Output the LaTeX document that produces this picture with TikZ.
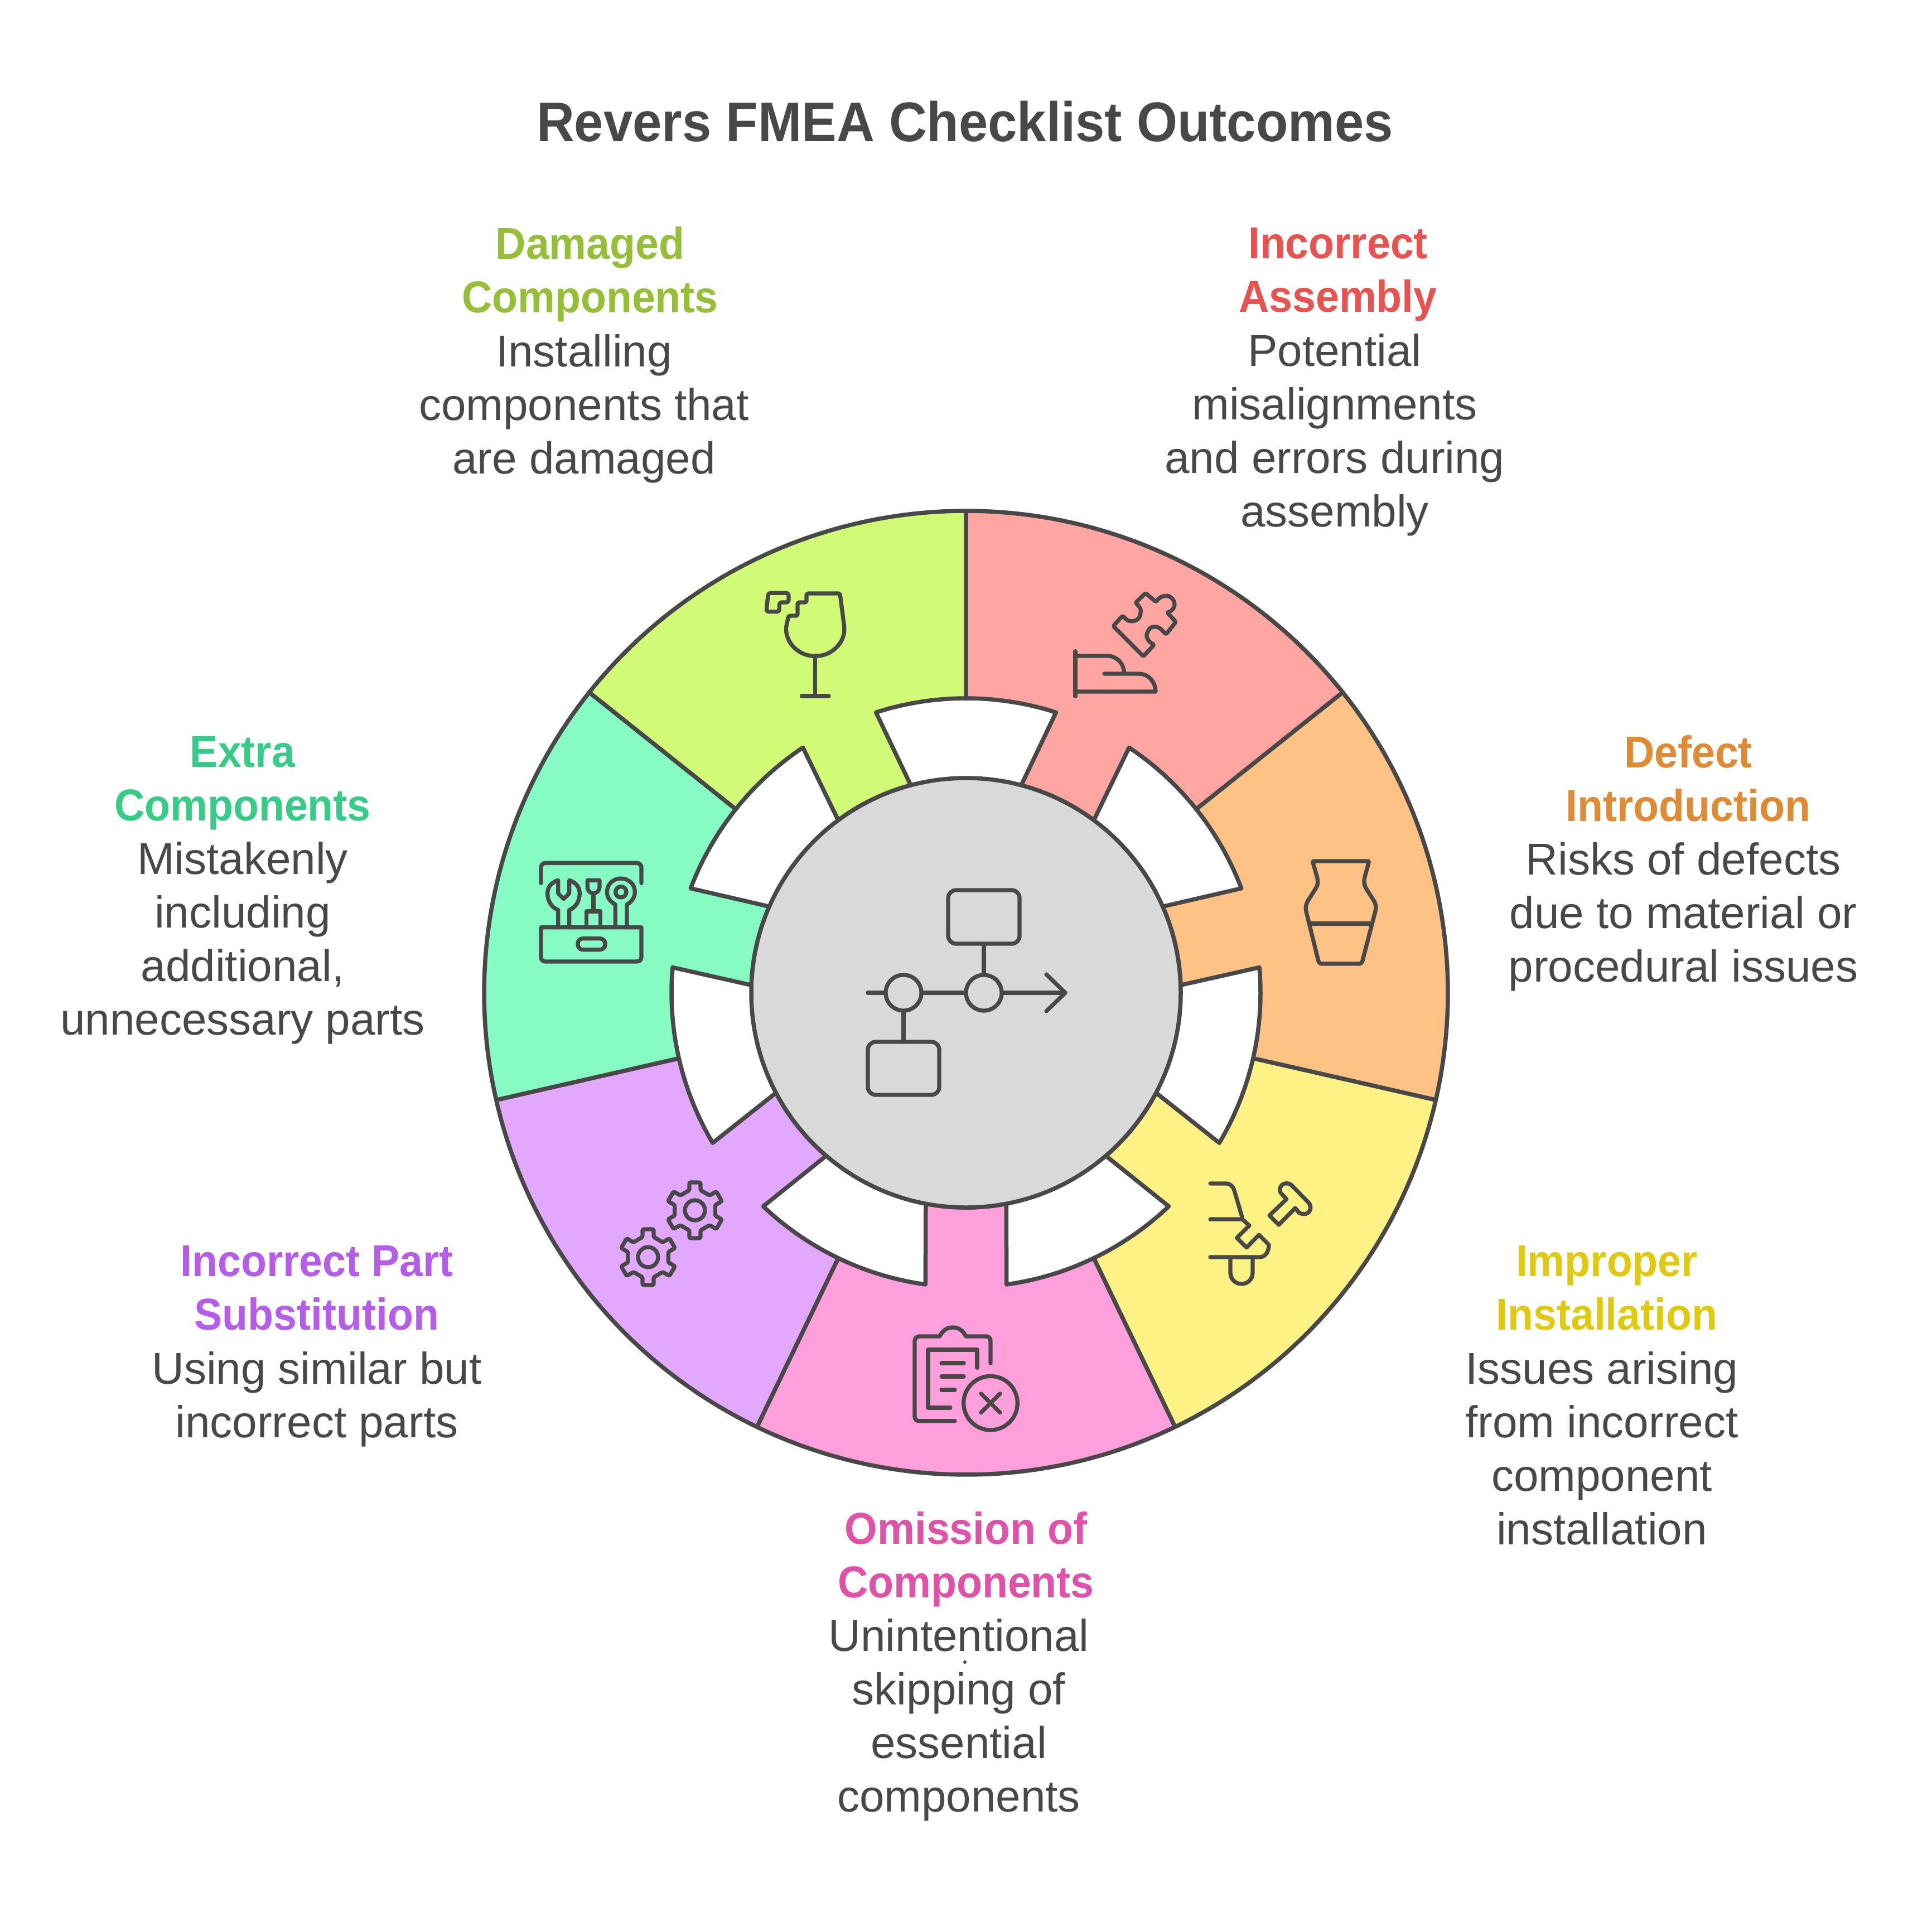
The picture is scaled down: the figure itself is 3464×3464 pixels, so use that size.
\documentclass[tikz,border=0pt]{standalone}
\usepackage{fontspec}
\setmainfont[BoldFeatures={FakeStretch=0.94}]{Liberation Sans}
\definecolor{ink}{HTML}{484848}
\definecolor{segA}{HTML}{FFA6A2}
\definecolor{segB}{HTML}{FFC285}
\definecolor{segC}{HTML}{FFF285}
\definecolor{segD}{HTML}{FFA0DC}
\definecolor{segE}{HTML}{E2A8FD}
\definecolor{segF}{HTML}{86FCC4}
\definecolor{segG}{HTML}{D1FB76}
\definecolor{hubgrey}{HTML}{D9D9D9}
\definecolor{txtA}{HTML}{E8524F}
\definecolor{txtB}{HTML}{E08B34}
\definecolor{txtC}{HTML}{E0C90F}
\definecolor{txtD}{HTML}{E052A8}
\definecolor{txtE}{HTML}{B65CEB}
\definecolor{txtF}{HTML}{36CB87}
\definecolor{txtG}{HTML}{95BF36}
\tikzset{
  titletext/.style={inner sep=0pt,text=ink,align=center,font=\fontsize{100}{116}\selectfont\bfseries},
  headtext/.style={inner sep=0pt,align=center,yshift=-13pt,font=\fontsize{80}{96}\selectfont\bfseries,execute at begin node=\strut,execute at end node=\strut},
  bodytext/.style={inner sep=0pt,text=ink,align=center,yshift=-13pt,font=\fontsize{80}{96}\selectfont,execute at begin node=\strut,execute at end node=\strut},
  segment/.style={draw=ink,line width=7.5pt,line join=round},
  icon/.style={draw=ink,line width=7.3pt,line cap=round,line join=round},
  iconframe/.style={x=0.33333pt,y=-0.33333pt}
}
% one ring segment from divider angle #1 to divider angle #2 (clockwise), fill #3
\newcommand{\fmeaseg}[3]{%
  \path[segment,fill=#3]
    (#1:864pt) arc[start angle=#1,end angle=#2,radius=864pt]
    -- (#2:528pt)
    arc[start angle=#2,end angle=#2+17.8,radius=528pt]
    -- (#2+14.9:385pt)
    arc[start angle=#2+14.9,end angle=#1-14.9,radius=385pt]
    -- (#1-17.8:528pt)
    arc[start angle=#1-17.8,end angle=#1,radius=528pt]
    -- cycle;}
\newcommand{\fmeagear}{%
  \draw[icon,rounded corners=2.5pt]
    (-30,-150) -- (30,-150) -- (30,-108)
    \foreach \a in {-60,-120,-180,-240,-300}{
      -- ([rotate=\a]-30,-108) -- ([rotate=\a]-30,-150) -- ([rotate=\a]30,-150) -- ([rotate=\a]30,-108)}
    -- (-30,-108) -- cycle;
  \draw[icon] (0,0) circle[radius=18pt];}
\begin{document}
\begin{tikzpicture}[x=1pt,y=-1pt]
\useasboundingbox (0,0) rectangle (3464,3464);
\fill[white] (0,0) rectangle (3464,3464);

% ring
\begin{scope}[shift={(1732,1780)},y=1pt]
  \fmeaseg{90}{38.5714}{segA}
  \fmeaseg{38.5714}{-12.8571}{segB}
  \fmeaseg{-12.8571}{-64.2857}{segC}
  \fmeaseg{-64.2857}{-115.7143}{segD}
  \fmeaseg{-115.7143}{-167.1429}{segE}
  \fmeaseg{-167.1429}{-218.5714}{segF}
  \fmeaseg{-218.5714}{-270}{segG}
  \path[segment,fill=hubgrey] (0,0) circle[radius=385pt];
\end{scope}

% hub icon
\draw[icon,rounded corners=14pt] (1700,1596) rectangle (1828,1692);
\draw[icon,rounded corners=14pt] (1556,1868) rectangle (1684,1963);
\node[icon,circle,inner sep=0pt,minimum size=64pt] (hubL) at (1620,1780) {};
\node[icon,circle,inner sep=0pt,minimum size=64pt] (hubR) at (1764,1780) {};
\coordinate (hubIn) at (1556,1780);
\coordinate (hubTip) at (1910,1780);
\coordinate (hubTop) at (1764,1692);
\coordinate (hubBot) at (1620,1868);
\draw[icon] (hubIn) -- (hubL.west);
\draw[icon] (hubL.east) -- (hubR.west);
\draw[icon] (hubR.east) -- (hubTip);
\draw[icon] (1876,1747) -- (hubTip) -- (1876,1813);
\draw[icon] (hubTop) -- (hubR.north);
\draw[icon] (hubL.south) -- (hubBot);

% glass
\begin{scope}[shift={(1340,1040)},iconframe]
  \draw[icon,rounded corners=4pt] (112,70) -- (222,70) -- (222,120) -- (172,120) -- (172,170) -- (102,170) -- cycle;
  \draw[icon,rounded corners=3pt] (318,72) -- (498,72) -- (521,250)
     .. controls (525,340) and (450,408) .. (365,408)
     .. controls (280,408) and (205,340) .. (209,250)
     -- (222,192) -- (270,192) -- (270,120) -- (318,120) -- cycle;
  \draw[icon] (365,408) -- (365,624);
  \draw[icon] (292,624) -- (438,624);
\end{scope}

% puzzle and hand
\begin{scope}[shift={(1910,1050)},iconframe]
  \draw[icon] (54,353) -- (54,595);
  \draw[icon] (54,378) -- (225,378) .. controls (275,378) and (315,415) .. (317,473);
  \draw[icon] (210,474) -- (395,474) .. controls (445,474) and (485,515) .. (486,570) -- (54,570);
  \draw[icon,rounded corners=2.5pt] (258,218) -- (308,162) -- (322,175)
     .. controls (345,200) and (400,195) .. (405,145)
     .. controls (408,120) and (390,105) .. (378,92)
     -- (432,40) -- (488,88)
     .. controls (510,55) and (550,45) .. (575,70)
     .. controls (595,95) and (590,130) .. (548,145)
     -- (595,195) -- (542,262) -- (525,245)
     .. controls (500,215) and (460,215) .. (445,245)
     .. controls (430,275) and (445,300) .. (478,318)
     -- (420,380) -- cycle;
\end{scope}

% vase
\begin{scope}[shift={(2300,1520)},iconframe]
  \draw[icon,rounded corners=2pt] (160,72) -- (464,72) -- (440,160)
     .. controls (435,185) and (440,205) .. (450,222) -- (490,285)
     .. controls (500,305) and (503,320) .. (498,340) -- (432,595)
     .. controls (428,615) and (420,624) .. (405,624) -- (215,624)
     .. controls (200,624) and (192,615) .. (188,595) -- (125,340)
     .. controls (122,320) and (125,305) .. (135,285) -- (175,222)
     .. controls (187,205) and (190,185) .. (185,160) -- cycle;
  \draw[icon] (140,408) -- (480,408);
\end{scope}

% keys and lock
\begin{scope}[shift={(2150,2100)},iconframe]
  \draw[icon] (60,66) -- (145,66) .. controls (170,66) and (183,85) .. (188,100) -- (232,250);
  \draw[icon] (60,258) -- (232,258) -- (270,292) -- (203,358) -- (255,410) -- (322,342) -- (375,395)
     .. controls (375,440) and (350,462) .. (325,462) -- (60,462);
  \draw[icon] (168,462) -- (168,545) .. controls (168,580) and (195,606) .. (228,606)
     .. controls (262,606) and (288,580) .. (288,545) -- (288,462);
  \draw[icon] (378,238) -- (470,150) -- (440,118)
     .. controls (425,95) and (440,65) .. (470,65)
     .. controls (485,65) and (495,72) .. (500,78) -- (590,170)
     .. controls (610,195) and (595,230) .. (565,230)
     .. controls (550,230) and (540,225) .. (535,220)
     -- (517,198) -- (428,288) -- cycle;
\end{scope}

% clipboard
\begin{scope}[shift={(1620,2365)},iconframe]
  \draw[icon] (468,238) -- (468,118) .. controls (468,103) and (458,93) .. (445,93) -- (335,93)
     .. controls (320,60) and (295,45) .. (265,45) .. controls (235,45) and (210,60) .. (195,93)
     -- (85,93) .. controls (70,93) and (60,105) .. (60,118) -- (60,525)
     .. controls (60,540) and (70,548) .. (85,548) -- (276,548);
  \draw[icon] (396,262) -- (396,165) -- (132,165) -- (132,477) -- (252,477);
  \draw[icon] (204,237) -- (324,237);
  \draw[icon] (204,309) -- (324,309);
  \draw[icon] (204,381) -- (276,381);
  \draw[icon] (468,452) circle[radius=48.3pt];
  \draw[icon] (417,401) -- (519,503);
  \draw[icon] (519,401) -- (417,503);
\end{scope}

% gears
\begin{scope}[shift={(1100,2105)},iconframe]
  \begin{scope}[shift={(438,195)}]\fmeagear\end{scope}
  \begin{scope}[shift={(186,447)}]\fmeagear\end{scope}
\end{scope}

% toolbox
\begin{scope}[shift={(950,1530)},iconframe]
  \draw[icon] (60,160) -- (60,77) .. controls (60,62) and (70,52) .. (85,52) -- (575,52)
     .. controls (590,52) and (600,62) .. (600,77) -- (600,160);
  \draw[icon] (60,398) -- (600,398) -- (600,557) .. controls (600,575) and (590,582) .. (575,582)
     -- (85,582) .. controls (70,582) and (60,575) .. (60,557) -- cycle;
  \draw[icon,rounded corners=9pt] (258,458) rectangle (405,518);
  \draw[icon] (152,398) -- (152,305) .. controls (115,290) and (95,255) .. (95,215)
     .. controls (95,180) and (118,155) .. (152,145) -- (152,215) -- (182,245) -- (212,215) -- (212,145)
     .. controls (245,155) and (268,180) .. (268,215) .. controls (268,255) and (248,290) .. (212,305) -- (212,398);
  \draw[icon] (305,398) -- (305,312) -- (380,312) -- (380,398);
  \draw[icon] (342,312) -- (342,215);
  \draw[icon] (310,145) -- (375,145) -- (375,180) .. controls (375,205) and (355,215) .. (342,215)
     .. controls (328,215) and (310,205) .. (310,180) -- cycle;
  \draw[icon] (460,398) -- (460,275) .. controls (430,260) and (415,235) .. (415,208)
     .. controls (415,165) and (450,135) .. (490,135) .. controls (530,135) and (565,165) .. (565,208)
     .. controls (565,235) and (550,260) .. (522,275) -- (522,398);
  \draw[icon] (490,208) circle[radius=9.7pt];
\end{scope}

% texts
\node[titletext] (title) at (1730,218) {Revers FMEA Checklist Outcomes};

\node[headtext,text=txtG] (headG) at (1058,485) {Damaged\\Components};
\node[bodytext] (bodyG) at (1047,726) {Installing\\components that\\are damaged};
\node[headtext,text=txtA] (headA) at (2399,485) {Incorrect\\Assembly};
\node[bodytext] (bodyA) at (2393,773) {Potential\\misalignments\\and errors during\\assembly};
\node[headtext,text=txtB] (headB) at (3027,1397) {Defect\\Introduction};
\node[bodytext] (bodyB) at (3018,1637) {Risks of defects\\due to material or\\procedural issues};
\node[headtext,text=txtC] (headC) at (2881,2310) {Improper\\Installation};
\node[bodytext] (bodyC) at (2872,2598) {Issues arising\\from incorrect\\component\\installation};
\node[headtext,text=txtD] (headD) at (1732,2789) {Omission of\\Components};
\node[bodytext] (bodyD) at (1719,3077) {Unintentional\\skipping of\\essential\\components};
\node[headtext,text=txtE] (headE) at (568,2310) {Incorrect Part\\Substitution};
\node[bodytext] (bodyE) at (568,2502) {Using similar but\\incorrect parts};
\node[headtext,text=txtF] (headF) at (435,1397) {Extra\\Components};
\node[bodytext] (bodyF) at (435,1684) {Mistakenly\\including\\additional,\\unnecessary parts};
\fill[ink] (1730,2980) circle[radius=3pt];
\end{tikzpicture}
\end{document}
